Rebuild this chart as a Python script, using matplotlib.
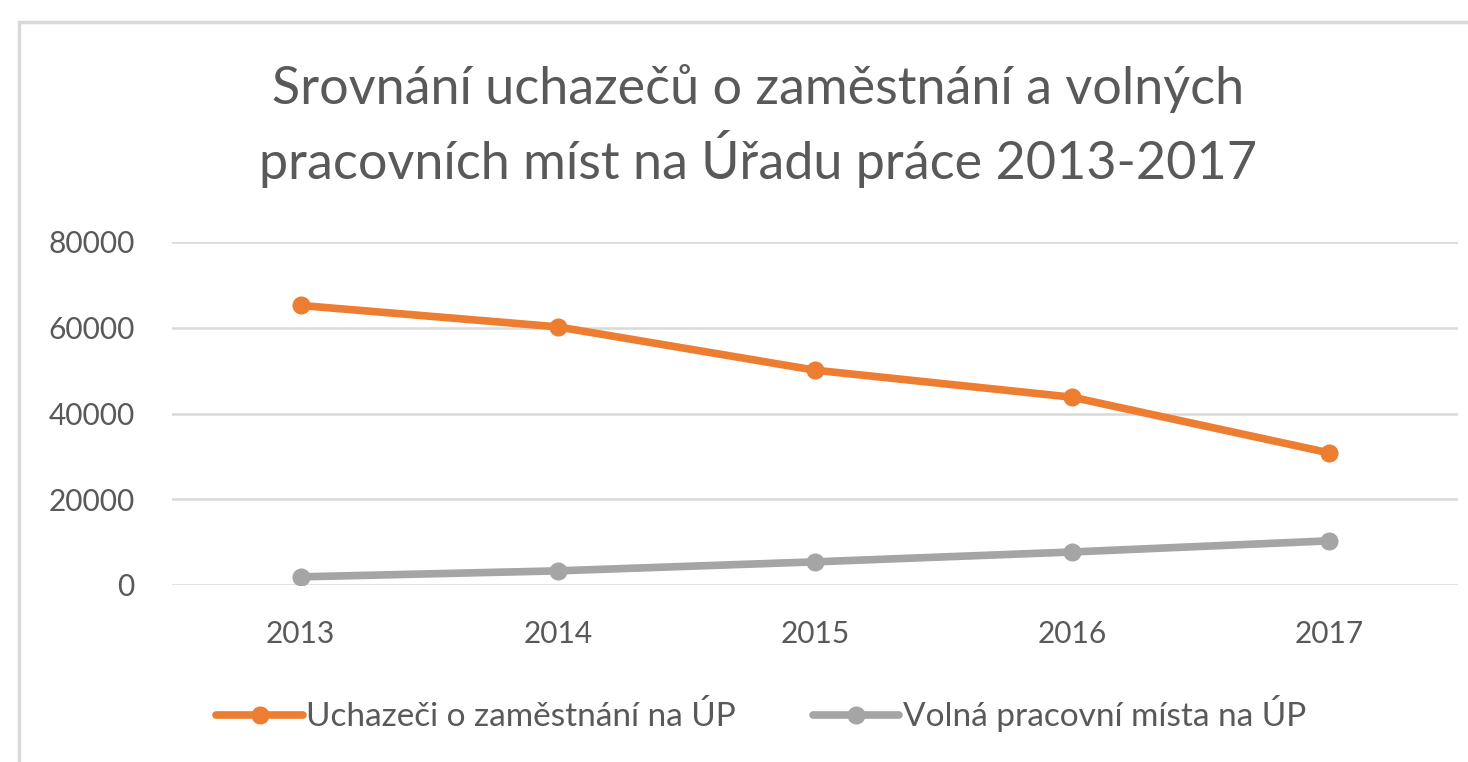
import matplotlib.pyplot as plt
from matplotlib.patches import Rectangle

years = ["2013", "2014", "2015", "2016", "2017"]
uchazeci = [65200, 60200, 50100, 43800, 30800]
volna_mista = [1900, 3300, 5400, 7700, 10300]

title = "Srovnání uchazečů o zaměstnání a volných\npracovních míst na Úřadu práce 2013-2017"
label_uch = "Uchazeči o zaměstnání na ÚP"
label_vol = "Volná pracovní místa na ÚP"

plt.rcParams['font.family'] = ['Lato', 'DejaVu Sans']
text_col = "#595959"

fig = plt.figure(figsize=(14.68, 7.62), dpi=100)
ax = fig.add_axes([172 / 1468, 1 - 585 / 762, 1286 / 1468, 343 / 762])

# chart frame like the screenshot
fig.patches.append(Rectangle((19 / 1468, -0.05), 1.1, 1 - 22 / 762 + 0.05,
                             transform=fig.transFigure, fill=False,
                             edgecolor="#d9d9d9", linewidth=2.5))

x = range(len(years))
ax.plot(x, uchazeci, color="#ED7D31", linewidth=5.5, marker="o",
        markersize=12, label=label_uch, solid_capstyle="round")
ax.plot(x, volna_mista, color="#A5A5A5", linewidth=5.5, marker="o",
        markersize=12, label=label_vol, solid_capstyle="round")

ax.set_xlim(-0.5, 4.5)
ax.set_ylim(0, 80000)
ax.set_yticks([0, 20000, 40000, 60000, 80000])
ax.set_xticks(list(x))
ax.set_xticklabels(years)
ax.tick_params(axis="both", length=0, labelsize=21.5, colors=text_col)
ax.tick_params(axis="y", pad=27)
ax.tick_params(axis="x", pad=25)
for s in ax.spines.values():
    s.set_visible(False)
ax.grid(axis="y", color="#d9d9d9", linewidth=1.8)
ax.set_axisbelow(True)

fig.text(758 / 1468, 1 - 126 / 762, title, ha="center", va="center",
         fontsize=37.5, color=text_col, linespacing=1.35)

fig.legend(loc="center", bbox_to_anchor=(761 / 1468, 1 - 714 / 762), ncol=2,
           frameon=False, fontsize=24, handlelength=2.6, handletextpad=0.1,
           columnspacing=2.3, labelcolor=text_col)

fig.savefig("out.png", dpi=100, facecolor="white")
